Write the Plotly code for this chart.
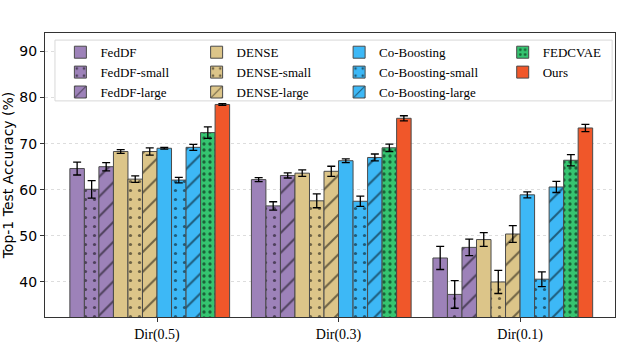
import plotly.graph_objects as go

# settings on the x axis
settings = ["Dir(0.5)", "Dir(0.3)", "Dir(0.1)"]

methods = ["FedDF", "FedDF-small", "FedDF-large",
           "DENSE", "DENSE-small", "DENSE-large",
           "Co-Boosting", "Co-Boosting-small", "Co-Boosting-large",
           "FEDCVAE", "Ours"]

# mean accuracy per method, one value per setting
fed_df = [64.6, 62.2, 45.2]
fed_df_small = [60.1, 56.5, 37.3]
fed_df_large = [65.0, 63.1, 47.5]
dense = [68.3, 63.6, 49.2]
dense_small = [62.3, 57.6, 40.0]
dense_large = [68.3, 64.0, 50.4]
co_boost = [69.0, 66.3, 58.9]
co_boost_small = [62.1, 57.5, 40.6]
co_boost_large = [69.2, 67.0, 60.6]
fedcvae = [72.4, 69.1, 66.4]
ours = [78.5, 75.5, 73.4]

# standard deviations
fed_df_err = [1.4, 0.45, 2.5]
fed_df_small_err = [1.9, 0.9, 3.0]
fed_df_large_err = [0.9, 0.55, 1.8]
dense_err = [0.4, 0.7, 1.5]
dense_small_err = [0.7, 1.5, 2.5]
dense_large_err = [0.8, 1.1, 1.8]
co_boost_err = [0.2, 0.4, 0.65]
co_boost_small_err = [0.6, 1.1, 1.6]
co_boost_large_err = [0.65, 0.75, 1.2]
fedcvae_err = [1.25, 0.8, 1.2]
ours_err = [0.2, 0.55, 0.8]

values = [fed_df, fed_df_small, fed_df_large, dense, dense_small, dense_large,
          co_boost, co_boost_small, co_boost_large, fedcvae, ours]
errors = [fed_df_err, fed_df_small_err, fed_df_large_err, dense_err, dense_small_err,
          dense_large_err, co_boost_err, co_boost_small_err, co_boost_large_err,
          fedcvae_err, ours_err]

purple = "#9d82b9"
tan = "#dcc589"
blue = "#3db8f6"
green = "#35c470"
orange = "#f0572a"
colors = [purple, purple, purple, tan, tan, tan, blue, blue, blue, green, orange]
shapes = ["", ".", "/", "", ".", "/", "", ".", "/", ".", ""]
sizes = [8, 9, 14, 8, 9, 14, 8, 9, 14, 6, 8]
solid = [0.1, 0.1, 0.14, 0.1, 0.1, 0.14, 0.1, 0.1, 0.14, 0.24, 0.1]
# the legend is laid out in four columns
columns = ["legend", "legend", "legend", "legend2", "legend2", "legend2",
           "legend3", "legend3", "legend3", "legend4", "legend4"]

x_pos = list(range(len(settings)))

fig = go.Figure()
for i, name in enumerate(methods):
    fig.add_trace(go.Bar(
        x=x_pos, y=values[i], name=name, legend=columns[i],
        marker=dict(color=colors[i], line=dict(color="#4a4a4a", width=1),
                    pattern=dict(shape=shapes[i], fgcolor="black", size=sizes[i],
                                 solidity=solid[i])),
        error_y=dict(type="data", array=errors[i], color="black", thickness=1.3, width=4),
    ))

leg_font = dict(family="Liberation Serif", size=13, color="black")
def col_legend(x):
    return dict(x=x, y=0.985, xanchor="left", yanchor="top", bgcolor="rgba(0,0,0,0)",
                borderwidth=0, font=leg_font, traceorder="normal")

fig.update_layout(
    width=640, height=342,
    margin=dict(l=45, r=25, t=33, b=25),
    barmode="group", bargap=0.12, bargroupgap=0,
    plot_bgcolor="white", paper_bgcolor="white",
    font=dict(family="Liberation Serif", size=13, color="black"),
    showlegend=True,
    legend=col_legend(0.027),
    legend2=col_legend(0.266),
    legend3=col_legend(0.516),
    legend4=col_legend(0.803),
)
# legend frame
fig.add_shape(type="rect", xref="paper", yref="paper", x0=0.0175, x1=0.995,
              y0=0.761, y1=0.975, fillcolor="white", line=dict(color="#d8d8d8", width=1),
              layer="above")

fig.update_xaxes(
    range=[-0.577, 2.563], tickvals=[p + 0.04 for p in x_pos], ticktext=settings,
    ticks="outside", ticklen=4, tickcolor="#333", showline=True, linecolor="#333",
    mirror=True, showgrid=False, tickfont=dict(family="Liberation Serif", size=14),
    automargin=False,
)
fig.update_yaxes(
    range=[32.4, 94], tickvals=[40, 50, 60, 70, 80, 90], ticks="outside", ticklen=4,
    tickcolor="#333", showline=True, linecolor="#333", mirror=True,
    showgrid=True, gridcolor="#dddddd", griddash="dot", gridwidth=1,
    tickfont=dict(family="DejaVu Sans", size=14), automargin=False,
    title=dict(text="Top-1 Test Accuracy (%)", font=dict(family="DejaVu Sans", size=14),
               standoff=2),
)

# the page body has a default margin; drop it so the figure sits at the corner
fig.write_html("out.html", config={"displayModeBar": False},
               post_script="document.body.style.margin='0';")
